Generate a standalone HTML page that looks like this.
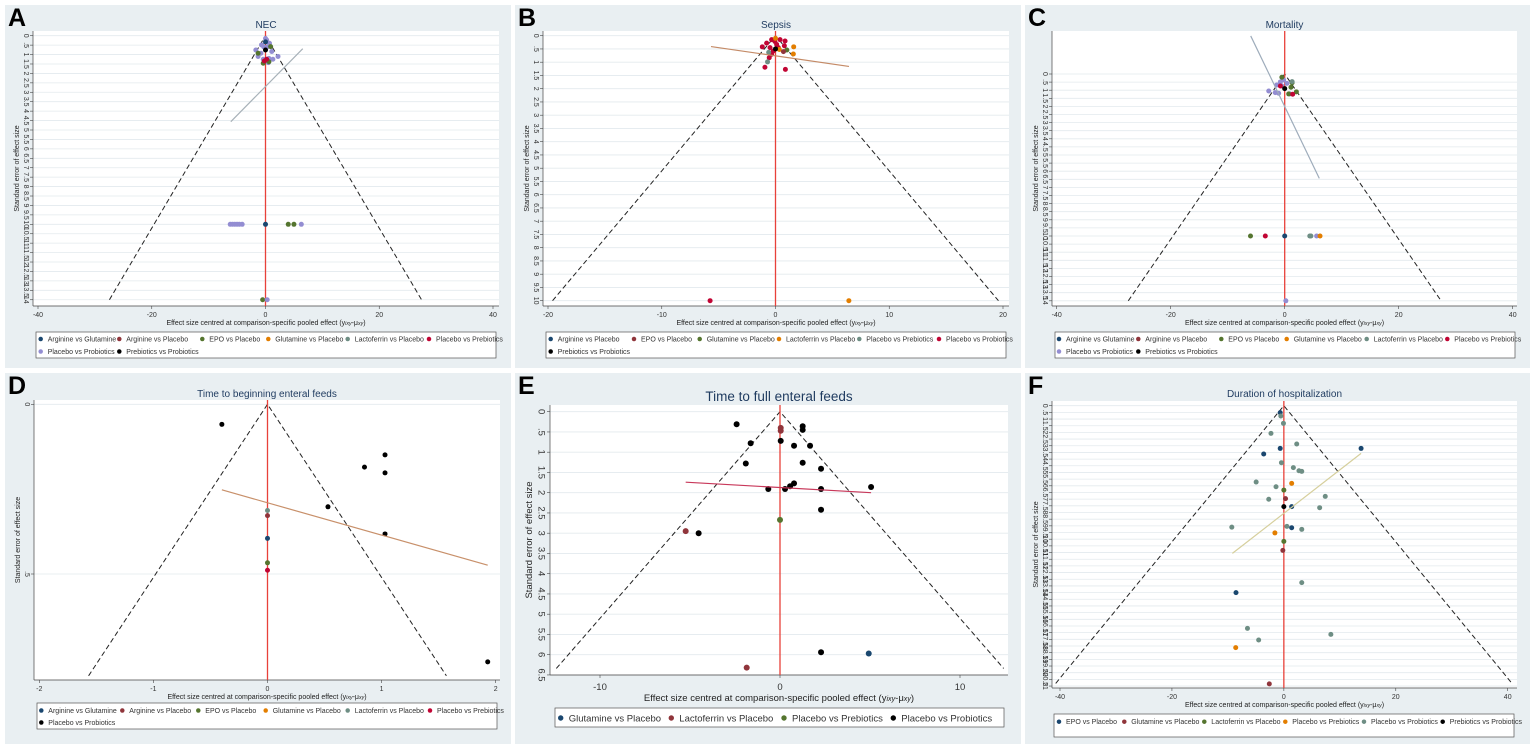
<!DOCTYPE html>
<html><head><meta charset="utf-8"><title>Network funnel plots</title>
<style>
html,body{margin:0;padding:0;background:#fff;}
svg{display:block;font-family:"Liberation Sans",Arial,sans-serif;}
</style></head>
<body>
<svg id="fig" width="1535" height="749" viewBox="0 0 1535 749" xmlns="http://www.w3.org/2000/svg"></svg>
<script>
// ===== Panel A: NEC =====
const A_title = "NEC";
const A_legend = ["Arginine vs Glutamine","Arginine vs Placebo","EPO vs Placebo","Glutamine vs Placebo","Lactoferrin vs Placebo","Placebo vs Prebiotics","Placebo vs Probiotics","Prebiotics vs Probiotics"];
const A_xticks = [-40,-20,0,20,40];
const A_x  = [-1.7,-1.3,-0.4,0.6,1.3,2.2,0.5,1.1,-0.8,0.2,0.7,-0.7,-0.3,0.3,0,-0.4,0.6,-1.3,0.9,-0.2,0.2,0,0,-6.2,-5.8,-5.4,-5,-4.6,-4.1,0,4,5,6.3,-0.5,0.3];
const A_se = [0.76,1.1,1.25,1.2,1.25,1.1,1.43,0.84,0.93,0.23,0.4,0.49,0.6,0.6,0.15,1.46,1.38,0.93,0.58,1.34,1.25,0.76,0.33,10,10,10,10,10,10,10,10,10,10,14,14];
const A_grp= [6,6,6,6,6,6,6,6,6,6,6,6,6,6,6,2,2,2,2,5,5,7,0,6,6,6,6,6,6,0,2,2,6,2,6];
const A_line = [-6.1,4.56,6.55,0.69];

// ===== Panel B: Sepsis =====
const B_title = "Sepsis";
const B_legend = ["Arginine vs Placebo","EPO vs Placebo","Glutamine vs Placebo","Lactoferrin vs Placebo","Placebo vs Prebiotics","Placebo vs Probiotics","Prebiotics vs Probiotics"];
const B_xticks = [-20,-10,0,10,20];
const B_x  = [-1.16,-0.78,-0.34,0.4,0.84,0.78,0.1,-0.2,-0.34,-0.55,-0.93,0.87,-0.05,0.25,-0.48,-5.75,1.6,1.57,0.34,0,6.45,1,-0.6,-0.7,0,0.7];
const B_se = [0.42,0.28,0.15,0.15,0.2,0.38,0.33,0.58,0.7,0.83,1.19,1.27,0.22,0.45,0.45,10,0.42,0.69,0.52,0.1,10,0.54,0.63,0.99,0.5,0.6];
const B_grp= [5,5,5,5,5,5,5,5,5,5,5,5,5,5,5,5,3,3,3,3,3,2,4,4,6,1];
const B_line = [-5.67,0.41,6.46,1.16];

// ===== Panel C: Mortality =====
const C_title = "Mortality";
const C_legend = A_legend.slice();
const C_xticks = [-40,-20,0,20,40];
const C_x  = [-2.8,-1.65,-1.06,-0.76,-0.18,0.4,0.88,-0.5,-1.4,-0.5,1.3,2.05,0.7,1.1,1.4,-0.76,0,1.3,-6,-3.4,0,4.4,4.6,5.6,6.2,0.2];
const C_se = [1.05,1.15,1.19,0.49,0.37,0.58,1.23,0.74,0.68,0.2,0.54,1.1,1.23,0.82,1.25,0.74,0.9,0.47,10,10,10,10,10,10,10,14];
const C_grp= [6,6,6,6,6,6,6,6,6,2,2,2,2,2,5,5,7,4,2,5,0,4,4,6,3,6];
const C_line = [-5.96,-2.35,6.07,6.44];

// ===== Panel D: Time to beginning enteral feeds =====
const D_title = "Time to beginning enteral feeds";
const D_legend = ["Arginine vs Glutamine","Arginine vs Placebo","EPO vs Placebo","Glutamine vs Placebo","Lactoferrin vs Placebo","Placebo vs Prebiotics","Placebo vs Probiotics"];
const D_xticks = [-2,-1,0,1,2];
const D_x  = [-0.4,1.03,0.85,1.03,0.53,1.03,1.93,0,0,0,0,0];
const D_se = [0.059,0.149,0.185,0.202,0.302,0.382,0.759,0.313,0.328,0.395,0.467,0.489];
const D_grp= [6,6,6,6,6,6,6,4,1,0,2,5];
const D_line = [-0.40,0.252,1.93,0.474];

// ===== Panel E: Time to full enteral feeds =====
const E_title = "Time to full enteral feeds";
const E_legend = ["Glutamine vs Placebo","Lactoferrin vs Placebo","Placebo vs Prebiotics","Placebo vs Probiotics"];
const E_xticks = [-10,0,10];
const E_x  = [-2.41,1.26,1.26,0.04,-1.63,0.78,1.67,-1.9,1.26,2.28,-0.65,0.28,0.56,0.78,2.28,5.06,2.28,-4.52,2.28,0.04,0.04,-5.24,-1.85,0,4.93];
const E_se = [0.31,0.36,0.45,0.72,0.78,0.84,0.84,1.28,1.26,1.41,1.91,1.91,1.84,1.77,1.91,1.86,2.42,3.0,5.94,0.40,0.47,2.95,6.32,2.67,5.97];
const E_grp= [3,3,3,3,3,3,3,3,3,3,3,3,3,3,3,3,3,3,3,1,1,1,1,2,0];
const E_line = [-5.24,1.74,5.06,2.0];

// ===== Panel F: Duration of hospitalization =====
const F_title = "Duration of hospitalization";
const F_legend = ["EPO vs Placebo","Glutamine vs Placebo","Lactoferrin vs Placebo","Placebo vs Prebiotics","Placebo vs Probiotics","Prebiotics vs Probiotics"];
const F_xticks = [-40,-20,0,20,40];
const F_x  = [-0.65,-0.54,-0.07,-2.3,2.3,-0.65,13.8,-3.6,-0.43,1.7,2.7,3.2,-4.95,1.4,-1.4,0,7.4,0.3,-2.7,0,1.4,6.4,-9.3,0.55,1.4,3.2,-1.6,0,-0.18,3.2,-8.55,-6.5,8.4,-4.5,-8.6,-2.6];
const F_se = [0.52,0.77,1.32,2.07,2.87,3.2,3.2,3.62,4.27,4.64,4.87,4.92,5.72,5.82,6.07,6.32,6.79,6.96,7.01,7.56,7.56,7.64,9.1,9.04,9.14,9.26,9.53,10.16,10.84,13.25,14.0,16.68,17.13,17.55,18.12,20.84];
const F_grp= [0,4,4,4,4,0,0,0,4,4,4,4,4,3,4,2,4,1,4,5,0,4,4,4,0,4,3,2,1,4,0,4,4,4,3,1];
const F_line = [-9.2,11.06,13.8,3.57];

const NAVY="#1a476f",MAROON="#90353b",GREEN="#55752f",ORANGE="#e37e00",TEAL="#6e8e84",CRAN="#c10534",LAV="#938dd2",BLK="#000000";
const NS="http://www.w3.org/2000/svg";
const svg=document.getElementById('fig');
function mk(tag,attrs,parent,txt){const e=document.createElementNS(NS,tag);for(const k in attrs)e.setAttribute(k,attrs[k]);if(txt!==undefined)e.textContent=txt;(parent||svg).appendChild(e);return e;}
function fmt(v){let s=(Math.round(v*100)/100).toString();if(s.startsWith("0."))s=s.slice(1);return s;}

function panel(c){
  const g=mk('g',{});
  
  
  const bg=mk('rect',{x:c.bx,y:c.by,width:c.bw,height:c.bh,fill:'#e9eff2'},g);
  
  
  const lt=mk('text',{x:c.bx+3,y:c.by+21,'font-size':25,'font-weight':'bold',fill:'#000'},g,c.letter);
  
  
  const pr=mk('rect',{x:c.x0,y:c.y0,width:c.x1-c.x0,height:c.y1-c.y0,fill:'#fff'},g);
  
  
  const X=v=>c.xa+(v-c.xva)*(c.xb-c.xa)/(c.xvb-c.xva);
  const Y=s=>c.ypix+s*c.yscale;
  const fs=c.fs, fsT=c.fsT;
  // gridlines + y ticks
  const yt=c.yticks;
  for(let i=0;i<yt.length;i++){
    const yy=Y(yt[i]);
    const gl=mk('line',{x1:c.x0,x2:c.x1,y1:yy,y2:yy,stroke:'#e3eaee','stroke-width':0.8},g);
    
    
    mk('line',{x1:c.x0-3,x2:c.x0,y1:yy,y2:yy,stroke:'#444','stroke-width':0.6},g);
    const tl=mk('text',{x:c.x0-c.ylabOff,y:yy,'font-size':fs,fill:'#333','text-anchor':'middle',transform:`rotate(90 ${c.x0-c.ylabOff} ${yy})`,'dominant-baseline':'middle'},g,fmt(yt[i]));
    
    
  }
  mk('line',{x1:c.x0,x2:c.x0,y1:c.y0,y2:c.y1,stroke:'#444','stroke-width':0.7},g);
  mk('line',{x1:c.x0,x2:c.x1,y1:c.y1,y2:c.y1,stroke:'#444','stroke-width':0.7},g);
  for(const t of c.xticks){
    const xx=X(t);
    mk('line',{x1:xx,x2:xx,y1:c.y1,y2:c.y1+3,stroke:'#444','stroke-width':0.6},g);
    const xl=mk('text',{x:xx,y:c.y1+c.xlabOff,'font-size':fs,fill:'#333','text-anchor':'middle'},g,String(t));
    
    
  }
  const xt=mk('text',{x:(c.x0+c.x1)/2,y:c.y1+c.xtitOff,'font-size':fs,fill:'#222','text-anchor':'middle'},g,'Effect size centred at comparison-specific pooled effect (y');
  mk('tspan',{'font-style':'italic','font-size':fs*0.75},xt,'ixy');
  mk('tspan',{},xt,'-μ');
  mk('tspan',{'font-style':'italic','font-size':fs*0.75},xt,'xy');
  mk('tspan',{},xt,')');
  
  
  const yc=(c.y0+c.y1)/2+c.ytitShift, yx=c.x0-c.ytitOff;
  const ytt=mk('text',{x:yx,y:yc,'font-size':fs,fill:'#222','text-anchor':'middle',transform:`rotate(-90 ${yx} ${yc})`},g,'Standard error of effect size');
  
  
  const ti=mk('text',{x:(c.x0+c.x1)/2,y:c.titleY,'font-size':fsT,fill:'#1e3a5f','text-anchor':'middle'},g,c.title);
  
  
  // funnel
  const fw=1.96*c.semax;
  const fn=mk('polyline',{points:`${X(-fw)},${Y(c.semax)} ${X(0)},${Y(0)} ${X(fw)},${Y(c.semax)}`,fill:'none',stroke:'#222','stroke-width':1,'stroke-dasharray':'5,3'},g);
  
  
  const rl=mk('line',{x1:X(0),x2:X(0),y1:c.y0,y2:c.y1,stroke:'#e8413a','stroke-width':1.3},g);
  
  
  // points
  for(let i=0;i<c.xs.length;i++){
    const p=mk('circle',{cx:X(c.xs[i]),cy:Y(c.ses[i]),r:c.r,fill:c.colors[c.grp[i]]},g);
    
    
  }
  const L=c.line;
  const rg=mk('line',{x1:X(L[0]),y1:Y(L[1]),x2:X(L[2]),y2:Y(L[3]),stroke:c.lineColor,'stroke-width':1.2},g);
  
  
  // legend
  const lg=mk('rect',{x:c.lx,y:c.ly,width:c.lw,height:c.lh,fill:'#fff',stroke:'#555','stroke-width':0.7},g);
  
  
  for(let i=0;i<c.legend.length;i++){
    const col=i%c.lcols.length, row=Math.floor(i/c.lcols.length);
    const mx=c.lcols[col], my=c.lrows[row];
    const eg=mk('g',{},g);
    
    
    mk('circle',{cx:mx,cy:my,r:c.r*0.9,fill:c.colors[i]},eg);
    mk('text',{x:mx+c.lgap,y:my+c.lfs*0.36,'font-size':c.lfs,fill:'#333'},eg,c.legend[i]);
  }
}

const small={fs:7,fsT:10,ylabOff:7,xlabOff:11,xtitOff:19,ytitOff:14,ytitShift:0,r:2.5,lfs:7,lgap:7};
function steps(max,st){const a=[];for(let v=0;v<=max+1e-9;v+=st)a.push(Math.round(v*100)/100);return a;}

panel(Object.assign({},small,{letter:'A',bx:5,by:5,bw:506,bh:363,x0:33,x1:499,y0:31,y1:306,xa:38,xb:493,xva:-40,xvb:40,ypix:35.7,yscale:18.86,yticks:steps(14,0.5),semax:14,titleY:28,title:A_title,xticks:A_xticks,xs:A_x,ses:A_se,grp:A_grp,line:A_line,lineColor:'#a7b1b8',colors:[NAVY,MAROON,GREEN,ORANGE,TEAL,CRAN,LAV,BLK],legend:A_legend,lx:36,ly:332,lw:460,lh:26,lcols:[40.7,119.3,202.3,268.3,347.7,429],lrows:[339,351.5]}));
panel(Object.assign({},small,{letter:'B',bx:515,by:5,bw:506,bh:363,x0:543,x1:1009,y0:31,y1:306,xa:548,xb:1003,xva:-20,xvb:20,ypix:35.7,yscale:26.5,yticks:steps(10,0.5),semax:10,titleY:28,title:B_title,xticks:B_xticks,xs:B_x,ses:B_se,grp:B_grp,line:B_line,lineColor:'#c48a66',colors:[NAVY,MAROON,GREEN,ORANGE,TEAL,CRAN,BLK],legend:B_legend,lx:546,ly:332,lw:460,lh:26,lcols:[550.7,634,699.7,779,859.3,939],lrows:[339,351.5]}));
panel(Object.assign({},small,{letter:'C',bx:1025,by:5,bw:505,bh:363,x0:1052,x1:1517,y0:31,y1:306,xa:1056.7,xb:1512.7,xva:-40,xvb:40,ypix:74,yscale:16.2,yticks:steps(14,0.5),semax:14,titleY:28,title:C_title,xticks:C_xticks,xs:C_x,ses:C_se,grp:C_grp,line:C_line,lineColor:'#9eacbb',colors:[NAVY,MAROON,GREEN,ORANGE,TEAL,CRAN,LAV,BLK],legend:C_legend,lx:1055,ly:332,lw:460,lh:26,lcols:[1059,1138.3,1221.3,1286.7,1366.7,1447.3],lrows:[339,351.5],ytitShift:0}));
panel(Object.assign({},small,{letter:'D',bx:5,by:373,bw:506,bh:371,x0:34,x1:500,y0:400,y1:680,xa:39.3,xb:495.7,xva:-2,xvb:2,ypix:404.3,yscale:339.4,yticks:[0,0.5],semax:0.8,titleY:397,title:D_title,xticks:D_xticks,xs:D_x,ses:D_se,grp:D_grp,line:D_line,lineColor:'#c8906a',colors:[NAVY,MAROON,GREEN,ORANGE,TEAL,CRAN,BLK],legend:D_legend,lx:37,ly:703,lw:460,lh:26,lcols:[41.3,122.3,198.3,265.7,347.7,430],lrows:[710.5,722.5]}));
panel({letter:'E',bx:515,by:373,bw:506,bh:371,fs:9.5,fsT:13.5,ylabOff:9,xlabOff:15,xtitOff:26,ytitOff:18,ytitShift:0,r:3,lfs:9.5,lgap:8,x0:550,x1:1008,y0:405,y1:675,xa:600,xb:960,xva:-10,xvb:10,ypix:411.7,yscale:40.5,yticks:steps(6.5,0.5),semax:6.34,titleY:401,title:E_title,xticks:E_xticks,xs:E_x,ses:E_se,grp:E_grp,line:E_line,lineColor:'#c8385a',colors:[NAVY,MAROON,GREEN,BLK],legend:E_legend,lx:555,ly:708,lw:449,lh:19,lcols:[560.7,671.3,784,893.3],lrows:[718]});
panel(Object.assign({},small,{letter:'F',bx:1025,by:373,bw:505,bh:371,x0:1052,x1:1517,y0:401,y1:688,xa:1060,xb:1507.7,xva:-40,xvb:40,ypix:405.7,yscale:13.35,yticks:steps(21,0.5),semax:20.8,titleY:397,title:F_title,xticks:F_xticks,xs:F_x,ses:F_se,grp:F_grp,line:F_line,lineColor:'#d6cf9c',colors:[NAVY,MAROON,GREEN,ORANGE,TEAL,BLK],legend:F_legend,lx:1054,ly:714,lw:460,lh:23,lcols:[1059,1124.3,1204.3,1285.3,1364,1442.7],lrows:[721.7],xtitOff:19}));
</script>
</body></html>
